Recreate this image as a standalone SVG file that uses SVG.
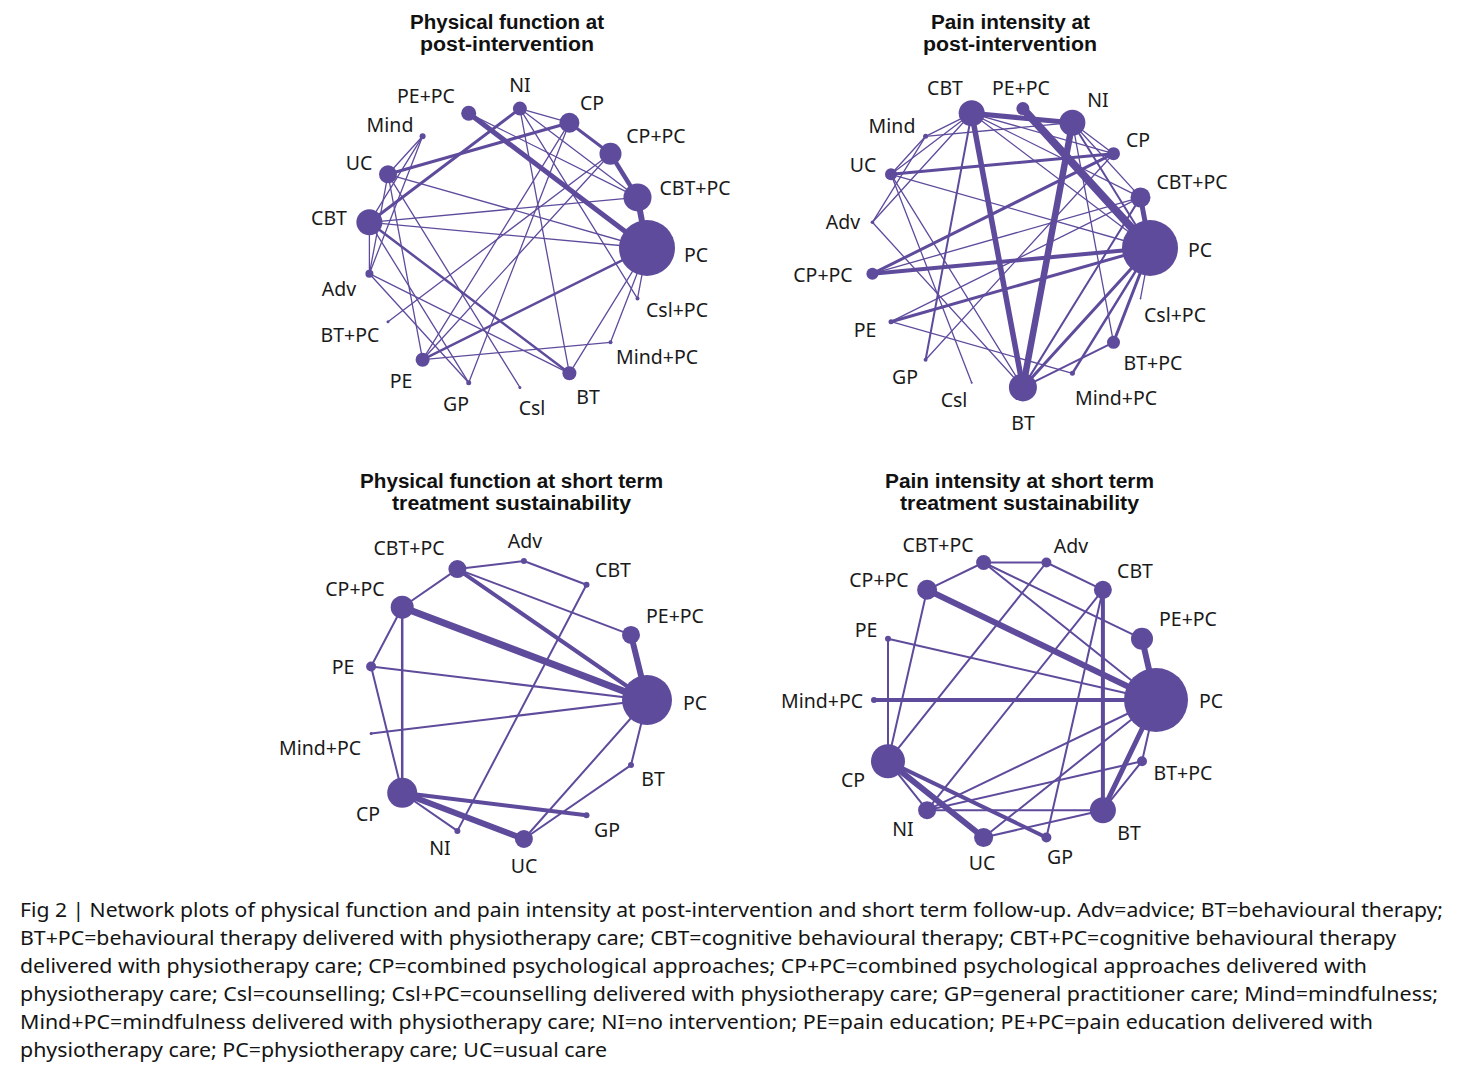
<svg xmlns="http://www.w3.org/2000/svg" width="1464" height="1072" viewBox="0 0 1464 1072">
<style>
.bg{fill:#ffffff}
.edges line{stroke:#5f4b9c;stroke-linecap:round}
.t line{stroke-width:1.3}
.b line{stroke-width:2}
.node circle{fill:#5f4b9c}
.lbl{font-family:"Noto Sans","Liberation Sans",sans-serif;font-size:19.5px;fill:#1a1a1a;text-anchor:middle}
.ttl{font-family:"Liberation Sans",Arial,sans-serif;font-size:19.5px;font-weight:bold;fill:#111;text-anchor:middle}
.cap{font-family:"Noto Sans","Liberation Sans",sans-serif;font-size:19px;fill:#141414}
</style>
<rect class="bg" x="0" y="0" width="1464" height="1072"/>

<!-- Titles -->
<g id="titles">
<text class="ttl" x="507" y="29" textLength="194" lengthAdjust="spacingAndGlyphs">Physical function at</text>
<text class="ttl" x="507" y="51" textLength="174" lengthAdjust="spacingAndGlyphs">post-intervention</text>
<text class="ttl" x="1010.5" y="29" textLength="159" lengthAdjust="spacingAndGlyphs">Pain intensity at</text>
<text class="ttl" x="1010" y="51" textLength="174" lengthAdjust="spacingAndGlyphs">post-intervention</text>
<text class="ttl" x="511.5" y="488" textLength="303" lengthAdjust="spacingAndGlyphs">Physical function at short term</text>
<text class="ttl" x="511.5" y="510" textLength="239" lengthAdjust="spacingAndGlyphs">treatment sustainability</text>
<text class="ttl" x="1019.5" y="488" textLength="269" lengthAdjust="spacingAndGlyphs">Pain intensity at short term</text>
<text class="ttl" x="1019.5" y="510" textLength="239" lengthAdjust="spacingAndGlyphs">treatment sustainability</text>
</g>

<!-- ===== Top-left connectors ===== -->
<g id="connectors-tl" class="edges t">
<line x1="468.7" y1="113.3" x2="647" y2="248" style="stroke-width:5"/>
<line x1="388" y1="174.3" x2="569.4" y2="122.7" style="stroke-width:3"/>
<line x1="369.4" y1="222.3" x2="519.9" y2="108.6" style="stroke-width:3"/>
<line x1="569.4" y1="122.7" x2="610.5" y2="153.7" style="stroke-width:3"/>
<line x1="610.5" y1="153.7" x2="637.5" y2="197.4" style="stroke-width:4.5"/>
<line x1="637.5" y1="197.4" x2="647" y2="248" style="stroke-width:6"/>
<line x1="369.4" y1="222.3" x2="569.4" y2="373.3" style="stroke-width:2.5"/>
<line x1="422.6" y1="359.7" x2="647" y2="248" style="stroke-width:2.5"/>
<line x1="422.6" y1="136.3" x2="388" y2="174.3"/>
<line x1="422.6" y1="136.3" x2="369.4" y2="222.3"/>
<line x1="422.6" y1="136.3" x2="369.4" y2="273.7"/>
<line x1="388" y1="174.3" x2="369.4" y2="273.7"/>
<line x1="388" y1="174.3" x2="647" y2="248"/>
<line x1="388" y1="174.3" x2="519.9" y2="387.4"/>
<line x1="388" y1="174.3" x2="422.6" y2="359.7"/>
<line x1="369.4" y1="222.3" x2="637.5" y2="197.4"/>
<line x1="369.4" y1="222.3" x2="647" y2="248"/>
<line x1="369.4" y1="222.3" x2="369.4" y2="273.7"/>
<line x1="369.4" y1="222.3" x2="468.7" y2="382.7"/>
<line x1="519.9" y1="108.6" x2="569.4" y2="122.7"/>
<line x1="519.9" y1="108.6" x2="637.5" y2="197.4"/>
<line x1="519.9" y1="108.6" x2="569.4" y2="373.3"/>
<line x1="519.9" y1="108.6" x2="637.5" y2="298.6"/>
<line x1="468.7" y1="113.3" x2="637.5" y2="197.4"/>
<line x1="569.4" y1="122.7" x2="422.6" y2="359.7"/>
<line x1="569.4" y1="122.7" x2="468.7" y2="382.7"/>
<line x1="610.5" y1="153.7" x2="388" y2="321.7"/>
<line x1="610.5" y1="153.7" x2="422.6" y2="359.7"/>
<line x1="647" y1="248" x2="569.4" y2="373.3"/>
<line x1="647" y1="248" x2="637.5" y2="298.6"/>
<line x1="647" y1="248" x2="610.5" y2="342.3"/>
<line x1="369.4" y1="273.7" x2="468.7" y2="382.7"/>
<line x1="369.4" y1="273.7" x2="569.4" y2="373.3"/>
<line x1="422.6" y1="359.7" x2="610.5" y2="342.3"/>
</g>

<!-- ===== Top-left nodes ===== -->
<g id="tl-PC" class="node"><circle cx="647" cy="248" r="28"/><text class="lbl" x="696" y="262">PC</text></g>
<g id="tl-CBTPC" class="node"><circle cx="637.5" cy="197.4" r="14"/><text class="lbl" x="695" y="195">CBT+PC</text></g>
<g id="tl-CPPC" class="node"><circle cx="610.5" cy="153.7" r="11"/><text class="lbl" x="656" y="143">CP+PC</text></g>
<g id="tl-CP" class="node"><circle cx="569.4" cy="122.7" r="10"/><text class="lbl" x="592" y="110">CP</text></g>
<g id="tl-NI" class="node"><circle cx="519.9" cy="108.6" r="7"/><text class="lbl" x="520" y="92">NI</text></g>
<g id="tl-PEPC" class="node"><circle cx="468.7" cy="113.3" r="7.5"/><text class="lbl" x="426" y="103">PE+PC</text></g>
<g id="tl-Mind" class="node"><circle cx="422.6" cy="136.3" r="3"/><text class="lbl" x="390" y="132">Mind</text></g>
<g id="tl-UC" class="node"><circle cx="388" cy="174.3" r="9"/><text class="lbl" x="359" y="170">UC</text></g>
<g id="tl-CBT" class="node"><circle cx="369.4" cy="222.3" r="13"/><text class="lbl" x="329" y="225">CBT</text></g>
<g id="tl-Adv" class="node"><circle cx="369.4" cy="273.7" r="4"/><text class="lbl" x="339" y="296">Adv</text></g>
<g id="tl-BTPC" class="node"><circle cx="388" cy="321.7" r="1.5"/><text class="lbl" x="350" y="342">BT+PC</text></g>
<g id="tl-PE" class="node"><circle cx="422.6" cy="359.7" r="7"/><text class="lbl" x="401" y="388">PE</text></g>
<g id="tl-GP" class="node"><circle cx="468.7" cy="382.7" r="2.5"/><text class="lbl" x="456" y="411">GP</text></g>
<g id="tl-Csl" class="node"><circle cx="519.9" cy="387.4" r="1.5"/><text class="lbl" x="532" y="415">Csl</text></g>
<g id="tl-BT" class="node"><circle cx="569.4" cy="373.3" r="7"/><text class="lbl" x="588" y="404">BT</text></g>
<g id="tl-MindPC" class="node"><circle cx="610.5" cy="342.3" r="2"/><text class="lbl" x="657" y="364">Mind+PC</text></g>
<g id="tl-CslPC" class="node"><circle cx="637.5" cy="298.6" r="2"/><text class="lbl" x="677" y="317">Csl+PC</text></g>

<!-- ===== Top-right connectors ===== -->
<g id="connectors-tr" class="edges t">
<line x1="971.7" y1="113.3" x2="1072.4" y2="122.7" style="stroke-width:5"/>
<line x1="1022.9" y1="108.6" x2="1150" y2="248" style="stroke-width:8"/>
<line x1="971.7" y1="113.3" x2="1022.9" y2="387.4" style="stroke-width:5.5"/>
<line x1="1072.4" y1="122.7" x2="1022.9" y2="387.4" style="stroke-width:6.5"/>
<line x1="891" y1="174.3" x2="1113.5" y2="153.7" style="stroke-width:3"/>
<line x1="872.4" y1="273.7" x2="1150" y2="248" style="stroke-width:4"/>
<line x1="872.4" y1="273.7" x2="1113.5" y2="153.7" style="stroke-width:3"/>
<line x1="891" y1="321.7" x2="1150" y2="248" style="stroke-width:3"/>
<line x1="1140.5" y1="197.4" x2="1150" y2="248" style="stroke-width:5"/>
<line x1="1022.9" y1="387.4" x2="1150" y2="248" style="stroke-width:3"/>
<line x1="1022.9" y1="387.4" x2="1113.5" y2="342.3" style="stroke-width:2"/>
<line x1="1150" y1="248" x2="1113.5" y2="342.3" style="stroke-width:3"/>
<line x1="1150" y1="248" x2="1072.4" y2="373.3" style="stroke-width:2.5"/>
<line x1="971.7" y1="113.3" x2="925.6" y2="359.7" style="stroke-width:2"/>
<line x1="1072.4" y1="122.7" x2="1150" y2="248" style="stroke-width:2"/>
<line x1="1022.9" y1="387.4" x2="1140.5" y2="197.4" style="stroke-width:2"/>
<line x1="971.7" y1="113.3" x2="925.6" y2="136.3"/>
<line x1="971.7" y1="113.3" x2="891" y2="174.3"/>
<line x1="971.7" y1="113.3" x2="872.4" y2="222.3"/>
<line x1="971.7" y1="113.3" x2="1113.5" y2="153.7"/>
<line x1="971.7" y1="113.3" x2="1140.5" y2="197.4"/>
<line x1="971.7" y1="113.3" x2="1150" y2="248"/>
<line x1="925.6" y1="136.3" x2="1072.4" y2="122.7"/>
<line x1="925.6" y1="136.3" x2="891" y2="174.3"/>
<line x1="925.6" y1="136.3" x2="872.4" y2="222.3"/>
<line x1="891" y1="174.3" x2="1150" y2="248"/>
<line x1="891" y1="174.3" x2="971.7" y2="382.7"/>
<line x1="891" y1="174.3" x2="1022.9" y2="387.4"/>
<line x1="872.4" y1="222.3" x2="1022.9" y2="387.4"/>
<line x1="872.4" y1="273.7" x2="1140.5" y2="197.4"/>
<line x1="891" y1="321.7" x2="1140.5" y2="197.4"/>
<line x1="891" y1="321.7" x2="1072.4" y2="373.3"/>
<line x1="925.6" y1="359.7" x2="1113.5" y2="153.7"/>
<line x1="1072.4" y1="122.7" x2="1113.5" y2="153.7"/>
<line x1="1072.4" y1="122.7" x2="1140.5" y2="197.4"/>
<line x1="1072.4" y1="122.7" x2="1113.5" y2="342.3"/>
<line x1="1150" y1="248" x2="1140.5" y2="298.6"/>
</g>

<!-- ===== Top-right nodes ===== -->
<g id="tr-PC" class="node"><circle cx="1150" cy="248" r="28"/><text class="lbl" x="1200" y="257">PC</text></g>
<g id="tr-CBTPC" class="node"><circle cx="1140.5" cy="197.4" r="10"/><text class="lbl" x="1192" y="189">CBT+PC</text></g>
<g id="tr-CP" class="node"><circle cx="1113.5" cy="153.7" r="6.5"/><text class="lbl" x="1138" y="147">CP</text></g>
<g id="tr-NI" class="node"><circle cx="1072.4" cy="122.7" r="13"/><text class="lbl" x="1098" y="107">NI</text></g>
<g id="tr-PEPC" class="node"><circle cx="1022.9" cy="108.6" r="6.5"/><text class="lbl" x="1021" y="95">PE+PC</text></g>
<g id="tr-CBT" class="node"><circle cx="971.7" cy="113.3" r="13"/><text class="lbl" x="945" y="95">CBT</text></g>
<g id="tr-Mind" class="node"><circle cx="925.6" cy="136.3" r="2.5"/><text class="lbl" x="892" y="133">Mind</text></g>
<g id="tr-UC" class="node"><circle cx="891" cy="174.3" r="6"/><text class="lbl" x="863" y="172">UC</text></g>
<g id="tr-Adv" class="node"><circle cx="872.4" cy="222.3" r="1.8"/><text class="lbl" x="843" y="229">Adv</text></g>
<g id="tr-CPPC" class="node"><circle cx="872.4" cy="273.7" r="6"/><text class="lbl" x="823" y="282">CP+PC</text></g>
<g id="tr-PE" class="node"><circle cx="891" cy="321.7" r="2.5"/><text class="lbl" x="865" y="337">PE</text></g>
<g id="tr-GP" class="node"><circle cx="925.6" cy="359.7" r="2"/><text class="lbl" x="905" y="384">GP</text></g>
<g id="tr-Csl" class="node"><circle cx="971.7" cy="382.7" r="1"/><text class="lbl" x="954" y="407">Csl</text></g>
<g id="tr-BT" class="node"><circle cx="1022.9" cy="387.4" r="14"/><text class="lbl" x="1023" y="430">BT</text></g>
<g id="tr-MindPC" class="node"><circle cx="1072.4" cy="373.3" r="2.5"/><text class="lbl" x="1116" y="405">Mind+PC</text></g>
<g id="tr-BTPC" class="node"><circle cx="1113.5" cy="342.3" r="6.5"/><text class="lbl" x="1153" y="370">BT+PC</text></g>
<g id="tr-CslPC" class="node"><circle cx="1140.5" cy="298.6" r="0.8"/><text class="lbl" x="1175" y="322">Csl+PC</text></g>

<!-- ===== Bottom-left connectors ===== -->
<g id="connectors-bl" class="edges b">
<line x1="457.4" y1="569.1" x2="523.9" y2="561"/>
<line x1="523.9" y1="561" x2="586.5" y2="584.8"/>
<line x1="457.4" y1="569.1" x2="647" y2="700" style="stroke-width:4"/>
<line x1="457.4" y1="569.1" x2="631" y2="634.9"/>
<line x1="457.4" y1="569.1" x2="402.2" y2="607.2"/>
<line x1="402.2" y1="607.2" x2="647" y2="700" style="stroke-width:7"/>
<line x1="402.2" y1="607.2" x2="371.1" y2="666.5"/>
<line x1="402.2" y1="607.2" x2="402.2" y2="792.8" style="stroke-width:2.5"/>
<line x1="371.1" y1="666.5" x2="647" y2="700"/>
<line x1="371.1" y1="666.5" x2="402.2" y2="792.8"/>
<line x1="371.1" y1="733.5" x2="647" y2="700"/>
<line x1="631" y1="634.9" x2="647" y2="700" style="stroke-width:6"/>
<line x1="586.5" y1="584.8" x2="457.4" y2="830.9"/>
<line x1="402.2" y1="792.8" x2="586.5" y2="815.2" style="stroke-width:4"/>
<line x1="402.2" y1="792.8" x2="523.9" y2="839" style="stroke-width:6"/>
<line x1="402.2" y1="792.8" x2="457.4" y2="830.9"/>
<line x1="523.9" y1="839" x2="647" y2="700"/>
<line x1="523.9" y1="839" x2="631" y2="765.1"/>
<line x1="631" y1="765.1" x2="647" y2="700"/>
</g>

<!-- ===== Bottom-left nodes ===== -->
<g id="bl-PC" class="node"><circle cx="647" cy="700" r="25"/><text class="lbl" x="695" y="710">PC</text></g>
<g id="bl-PEPC" class="node"><circle cx="631" cy="634.9" r="9"/><text class="lbl" x="675" y="623">PE+PC</text></g>
<g id="bl-CBT" class="node"><circle cx="586.5" cy="584.8" r="3"/><text class="lbl" x="613" y="577">CBT</text></g>
<g id="bl-Adv" class="node"><circle cx="523.9" cy="561" r="3"/><text class="lbl" x="525" y="548">Adv</text></g>
<g id="bl-CBTPC" class="node"><circle cx="457.4" cy="569.1" r="9"/><text class="lbl" x="409" y="555">CBT+PC</text></g>
<g id="bl-CPPC" class="node"><circle cx="402.2" cy="607.2" r="11.5"/><text class="lbl" x="355" y="596">CP+PC</text></g>
<g id="bl-PE" class="node"><circle cx="371.1" cy="666.5" r="5"/><text class="lbl" x="343" y="674">PE</text></g>
<g id="bl-MindPC" class="node"><circle cx="371.1" cy="733.5" r="1.5"/><text class="lbl" x="320" y="755">Mind+PC</text></g>
<g id="bl-CP" class="node"><circle cx="402.2" cy="792.8" r="15"/><text class="lbl" x="368" y="821">CP</text></g>
<g id="bl-NI" class="node"><circle cx="457.4" cy="830.9" r="3"/><text class="lbl" x="440" y="855">NI</text></g>
<g id="bl-UC" class="node"><circle cx="523.9" cy="839" r="9"/><text class="lbl" x="524" y="873">UC</text></g>
<g id="bl-GP" class="node"><circle cx="586.5" cy="815.2" r="3"/><text class="lbl" x="607" y="837">GP</text></g>
<g id="bl-BT" class="node"><circle cx="631" cy="765.1" r="3"/><text class="lbl" x="653" y="786">BT</text></g>

<!-- ===== Bottom-right connectors ===== -->
<g id="connectors-br" class="edges b">
<line x1="983.6" y1="562.5" x2="1046.4" y2="562.5"/>
<line x1="1046.4" y1="562.5" x2="1102.9" y2="589.8"/>
<line x1="983.6" y1="562.5" x2="927.1" y2="589.8"/>
<line x1="983.6" y1="562.5" x2="1142" y2="638.8"/>
<line x1="983.6" y1="562.5" x2="1156" y2="700"/>
<line x1="927.1" y1="589.8" x2="1156" y2="700" style="stroke-width:6"/>
<line x1="927.1" y1="589.8" x2="888" y2="761.2"/>
<line x1="888" y1="638.8" x2="1156" y2="700"/>
<line x1="888" y1="638.8" x2="888" y2="761.2"/>
<line x1="874" y1="700" x2="1156" y2="700" style="stroke-width:4"/>
<line x1="1142" y1="638.8" x2="1156" y2="700" style="stroke-width:6"/>
<line x1="1046.4" y1="562.5" x2="888" y2="761.2"/>
<line x1="1102.9" y1="589.8" x2="927.1" y2="810.2"/>
<line x1="1102.9" y1="589.8" x2="1046.4" y2="837.5"/>
<line x1="1102.9" y1="589.8" x2="1102.9" y2="810.2" style="stroke-width:4"/>
<line x1="888" y1="761.2" x2="927.1" y2="810.2"/>
<line x1="888" y1="761.2" x2="983.6" y2="837.5" style="stroke-width:6"/>
<line x1="888" y1="761.2" x2="1046.4" y2="837.5" style="stroke-width:4"/>
<line x1="927.1" y1="810.2" x2="1102.9" y2="810.2"/>
<line x1="927.1" y1="810.2" x2="1142" y2="761.2"/>
<line x1="927.1" y1="810.2" x2="1156" y2="700"/>
<line x1="983.6" y1="837.5" x2="1156" y2="700"/>
<line x1="983.6" y1="837.5" x2="1102.9" y2="810.2"/>
<line x1="1156" y1="700" x2="1102.9" y2="810.2" style="stroke-width:5"/>
<line x1="1156" y1="700" x2="1142" y2="761.2"/>
<line x1="1142" y1="761.2" x2="1102.9" y2="810.2"/>
</g>

<!-- ===== Bottom-right nodes ===== -->
<g id="br-PC" class="node"><circle cx="1156" cy="700" r="32"/><text class="lbl" x="1211" y="708">PC</text></g>
<g id="br-PEPC" class="node"><circle cx="1142" cy="638.8" r="11"/><text class="lbl" x="1188" y="626">PE+PC</text></g>
<g id="br-CBT" class="node"><circle cx="1102.9" cy="589.8" r="9"/><text class="lbl" x="1135" y="578">CBT</text></g>
<g id="br-Adv" class="node"><circle cx="1046.4" cy="562.5" r="5"/><text class="lbl" x="1071" y="553">Adv</text></g>
<g id="br-CBTPC" class="node"><circle cx="983.6" cy="562.5" r="7.5"/><text class="lbl" x="938" y="552">CBT+PC</text></g>
<g id="br-CPPC" class="node"><circle cx="927.1" cy="589.8" r="10"/><text class="lbl" x="879" y="587">CP+PC</text></g>
<g id="br-PE" class="node"><circle cx="888" cy="638.8" r="3"/><text class="lbl" x="866" y="637">PE</text></g>
<g id="br-MindPC" class="node"><circle cx="874" cy="700" r="3"/><text class="lbl" x="822" y="708">Mind+PC</text></g>
<g id="br-CP" class="node"><circle cx="888" cy="761.2" r="17"/><text class="lbl" x="853" y="787">CP</text></g>
<g id="br-NI" class="node"><circle cx="927.1" cy="810.2" r="9"/><text class="lbl" x="903" y="836">NI</text></g>
<g id="br-UC" class="node"><circle cx="983.6" cy="837.5" r="9.5"/><text class="lbl" x="982" y="870">UC</text></g>
<g id="br-GP" class="node"><circle cx="1046.4" cy="837.5" r="5"/><text class="lbl" x="1060" y="864">GP</text></g>
<g id="br-BT" class="node"><circle cx="1102.9" cy="810.2" r="13"/><text class="lbl" x="1129" y="840">BT</text></g>
<g id="br-BTPC" class="node"><circle cx="1142" cy="761.2" r="5"/><text class="lbl" x="1183" y="780">BT+PC</text></g>

<!-- Caption -->
<g id="caption">
<text class="cap" x="20" y="917" textLength="1423" lengthAdjust="spacingAndGlyphs">Fig 2 | Network plots of physical function and pain intensity at post-intervention and short term follow-up. Adv=advice; BT=behavioural therapy;</text>
<text class="cap" x="20" y="945" textLength="1376" lengthAdjust="spacingAndGlyphs">BT+PC=behavioural therapy delivered with physiotherapy care; CBT=cognitive behavioural therapy; CBT+PC=cognitive behavioural therapy</text>
<text class="cap" x="20" y="973" textLength="1347" lengthAdjust="spacingAndGlyphs">delivered with physiotherapy care; CP=combined psychological approaches; CP+PC=combined psychological approaches delivered with</text>
<text class="cap" x="20" y="1001" textLength="1418" lengthAdjust="spacingAndGlyphs">physiotherapy care; Csl=counselling; Csl+PC=counselling delivered with physiotherapy care; GP=general practitioner care; Mind=mindfulness;</text>
<text class="cap" x="20" y="1029" textLength="1353" lengthAdjust="spacingAndGlyphs">Mind+PC=mindfulness delivered with physiotherapy care; NI=no intervention; PE=pain education; PE+PC=pain education delivered with</text>
<text class="cap" x="20" y="1057" textLength="587" lengthAdjust="spacingAndGlyphs">physiotherapy care; PC=physiotherapy care; UC=usual care</text>
</g>
</svg>
